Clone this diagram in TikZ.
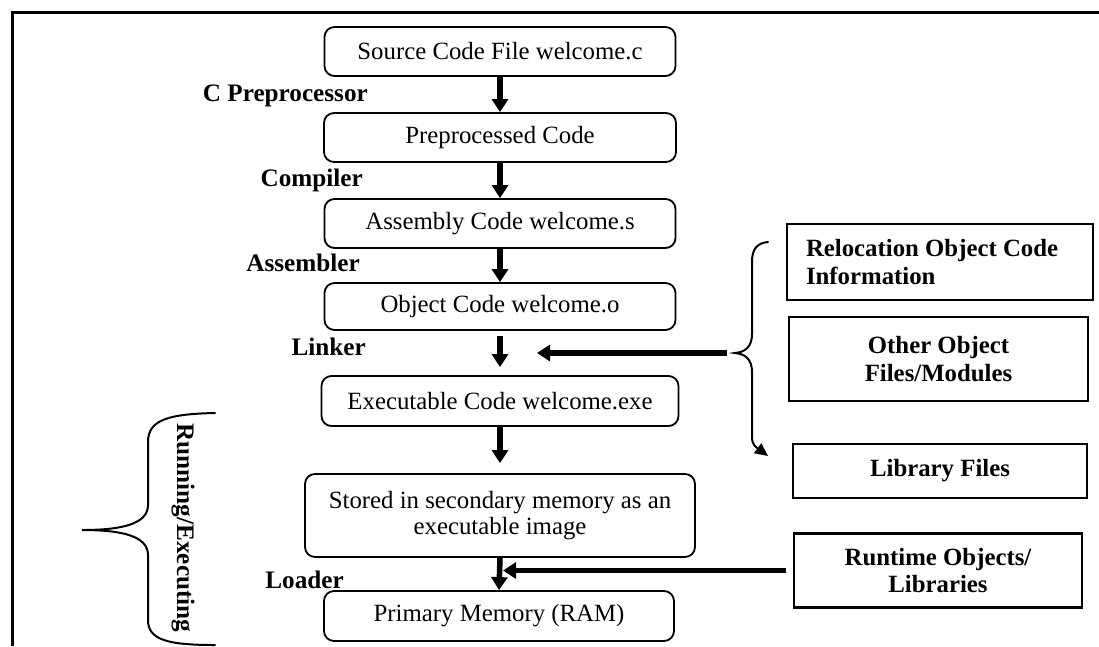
\documentclass[tikz,border=0pt]{standalone}
\usepackage{fontspec}
\setmainfont{Liberation Serif}
\usetikzlibrary{arrows.meta}

\begin{document}
\begin{tikzpicture}[x=1pt,y=-1pt,
  every node/.style={font=\fontsize{24.8}{27}\selectfont},
  stage/.style={draw, line width=1.8pt, rounded corners=10pt, inner sep=0pt, align=center},
  tool/.style={font=\fontsize{25.2}{27}\selectfont\bfseries, inner sep=0pt},
  extbox/.style={draw, line width=2.4pt, inner sep=0pt, align=center,
                 font=\fontsize{24.8}{27.5}\selectfont\bfseries},
  flow/.style={line width=5.5pt, -{Triangle[length=13pt,width=16pt]}},
  bracepath/.style={line width=2pt, line cap=round}
]
\useasboundingbox (0,0) rectangle (1099,646);

% outer frame (top and left edges)
\draw[line width=2.2pt] (12.5,646) -- (12.5,12.5) -- (1099,12.5);

% build pipeline stages
\node[stage, minimum width=351pt, minimum height=49pt] (src)    at (500,51.5)  {Source Code File welcome.c};
\node[stage, minimum width=352pt, minimum height=49pt] (pre)    at (500,137.5) {Preprocessed Code};
\node[stage, minimum width=351pt, minimum height=49pt] (asm)    at (500,223.5) {Assembly Code welcome.s};
\node[stage, minimum width=351pt, minimum height=47pt] (obj)    at (500,306.5) {Object Code welcome.o};
\node[stage, minimum width=357pt, minimum height=50pt] (exe)    at (500,401)   {Executable Code welcome.exe};
\node[stage, minimum width=390pt, minimum height=83pt,
      font=\fontsize{24.8}{25.5}\selectfont]           (stored) at (500,515.5) {Stored in secondary memory as an\\executable image};
\node[stage, minimum width=350pt, minimum height=50pt] (prim)   at (499,616)   {Primary Memory (RAM)};

% tool names beside the arrows
\node[tool, anchor=base east] (lpre)  at (368,101) {C Preprocessor};
\node[tool, anchor=base east] (lcomp) at (363,186) {Compiler};
\node[tool, anchor=base east] (lasm)  at (360,271) {Assembler};
\node[tool, anchor=base east] (llink) at (366,355) {Linker};
\node[tool, anchor=base east] (lload) at (344,588) {Loader};

% inputs on the right
\node[extbox, minimum width=306pt, minimum height=76pt, text width=268pt, align=flush left] (reloc) at (940,262)
  {Relocation Object Code\\Information};
\node[extbox, minimum width=299pt, minimum height=84pt] (other) at (938.5,359) {Other Object\\Files/Modules};
\node[extbox, minimum width=294pt, minimum height=54pt] (lib)   at (940,471)   {Library Files};
\node[extbox, minimum width=288pt, minimum height=74pt] (run)   at (938,570.5) {Runtime Objects/\\Libraries};

% main flow
\draw[flow] (src.south) -- (pre.north);
\draw[flow] (pre.south) -- (asm.north);
\draw[flow] (asm.south) -- (obj.north);
\draw[flow, shorten <=5pt, shorten >=8pt] (obj.south) -- (exe.north);
\draw[flow, shorten >=10pt] (exe.south) -- (stored.north);
\draw[flow] (stored.south) -- (prim.north);

% linker inputs: brace over the right-hand boxes
\coordinate (linktip) at (735,353);
\coordinate (linkin)  at (537,353);
\draw[bracepath, -{Triangle[length=13pt,width=12pt]}]
  (768,242) .. controls (757,243) and (752,249) .. (752,262)
  -- (752,334) .. controls (752,346) and (746,352) .. (linktip)
  .. controls (746,354) and (752,360) .. (752,372)
  -- (752,437) .. controls (752,445) and (756,447) .. (768,456);
\draw[flow, shorten <=8pt] (linktip) -- (linkin);

% loader input from runtime objects
\coordinate (loadin) at (503,570.5);
\draw[flow, shorten <=7pt] (run.west) -- (loadin);

% running / executing brace on the left
\draw[bracepath]
  (215,413) .. controls (168,414) and (148,420) .. (148,442)
  -- (148,505) .. controls (148,524) and (122,530) .. (82,530)
  .. controls (122,530) and (148,536) .. (148,555)
  -- (148,620) .. controls (148,640) and (168,645) .. (215,645);
\node[tool, rotate=-90] (runexec) at (183,528) {Running/Executing};

\end{tikzpicture}
\end{document}
